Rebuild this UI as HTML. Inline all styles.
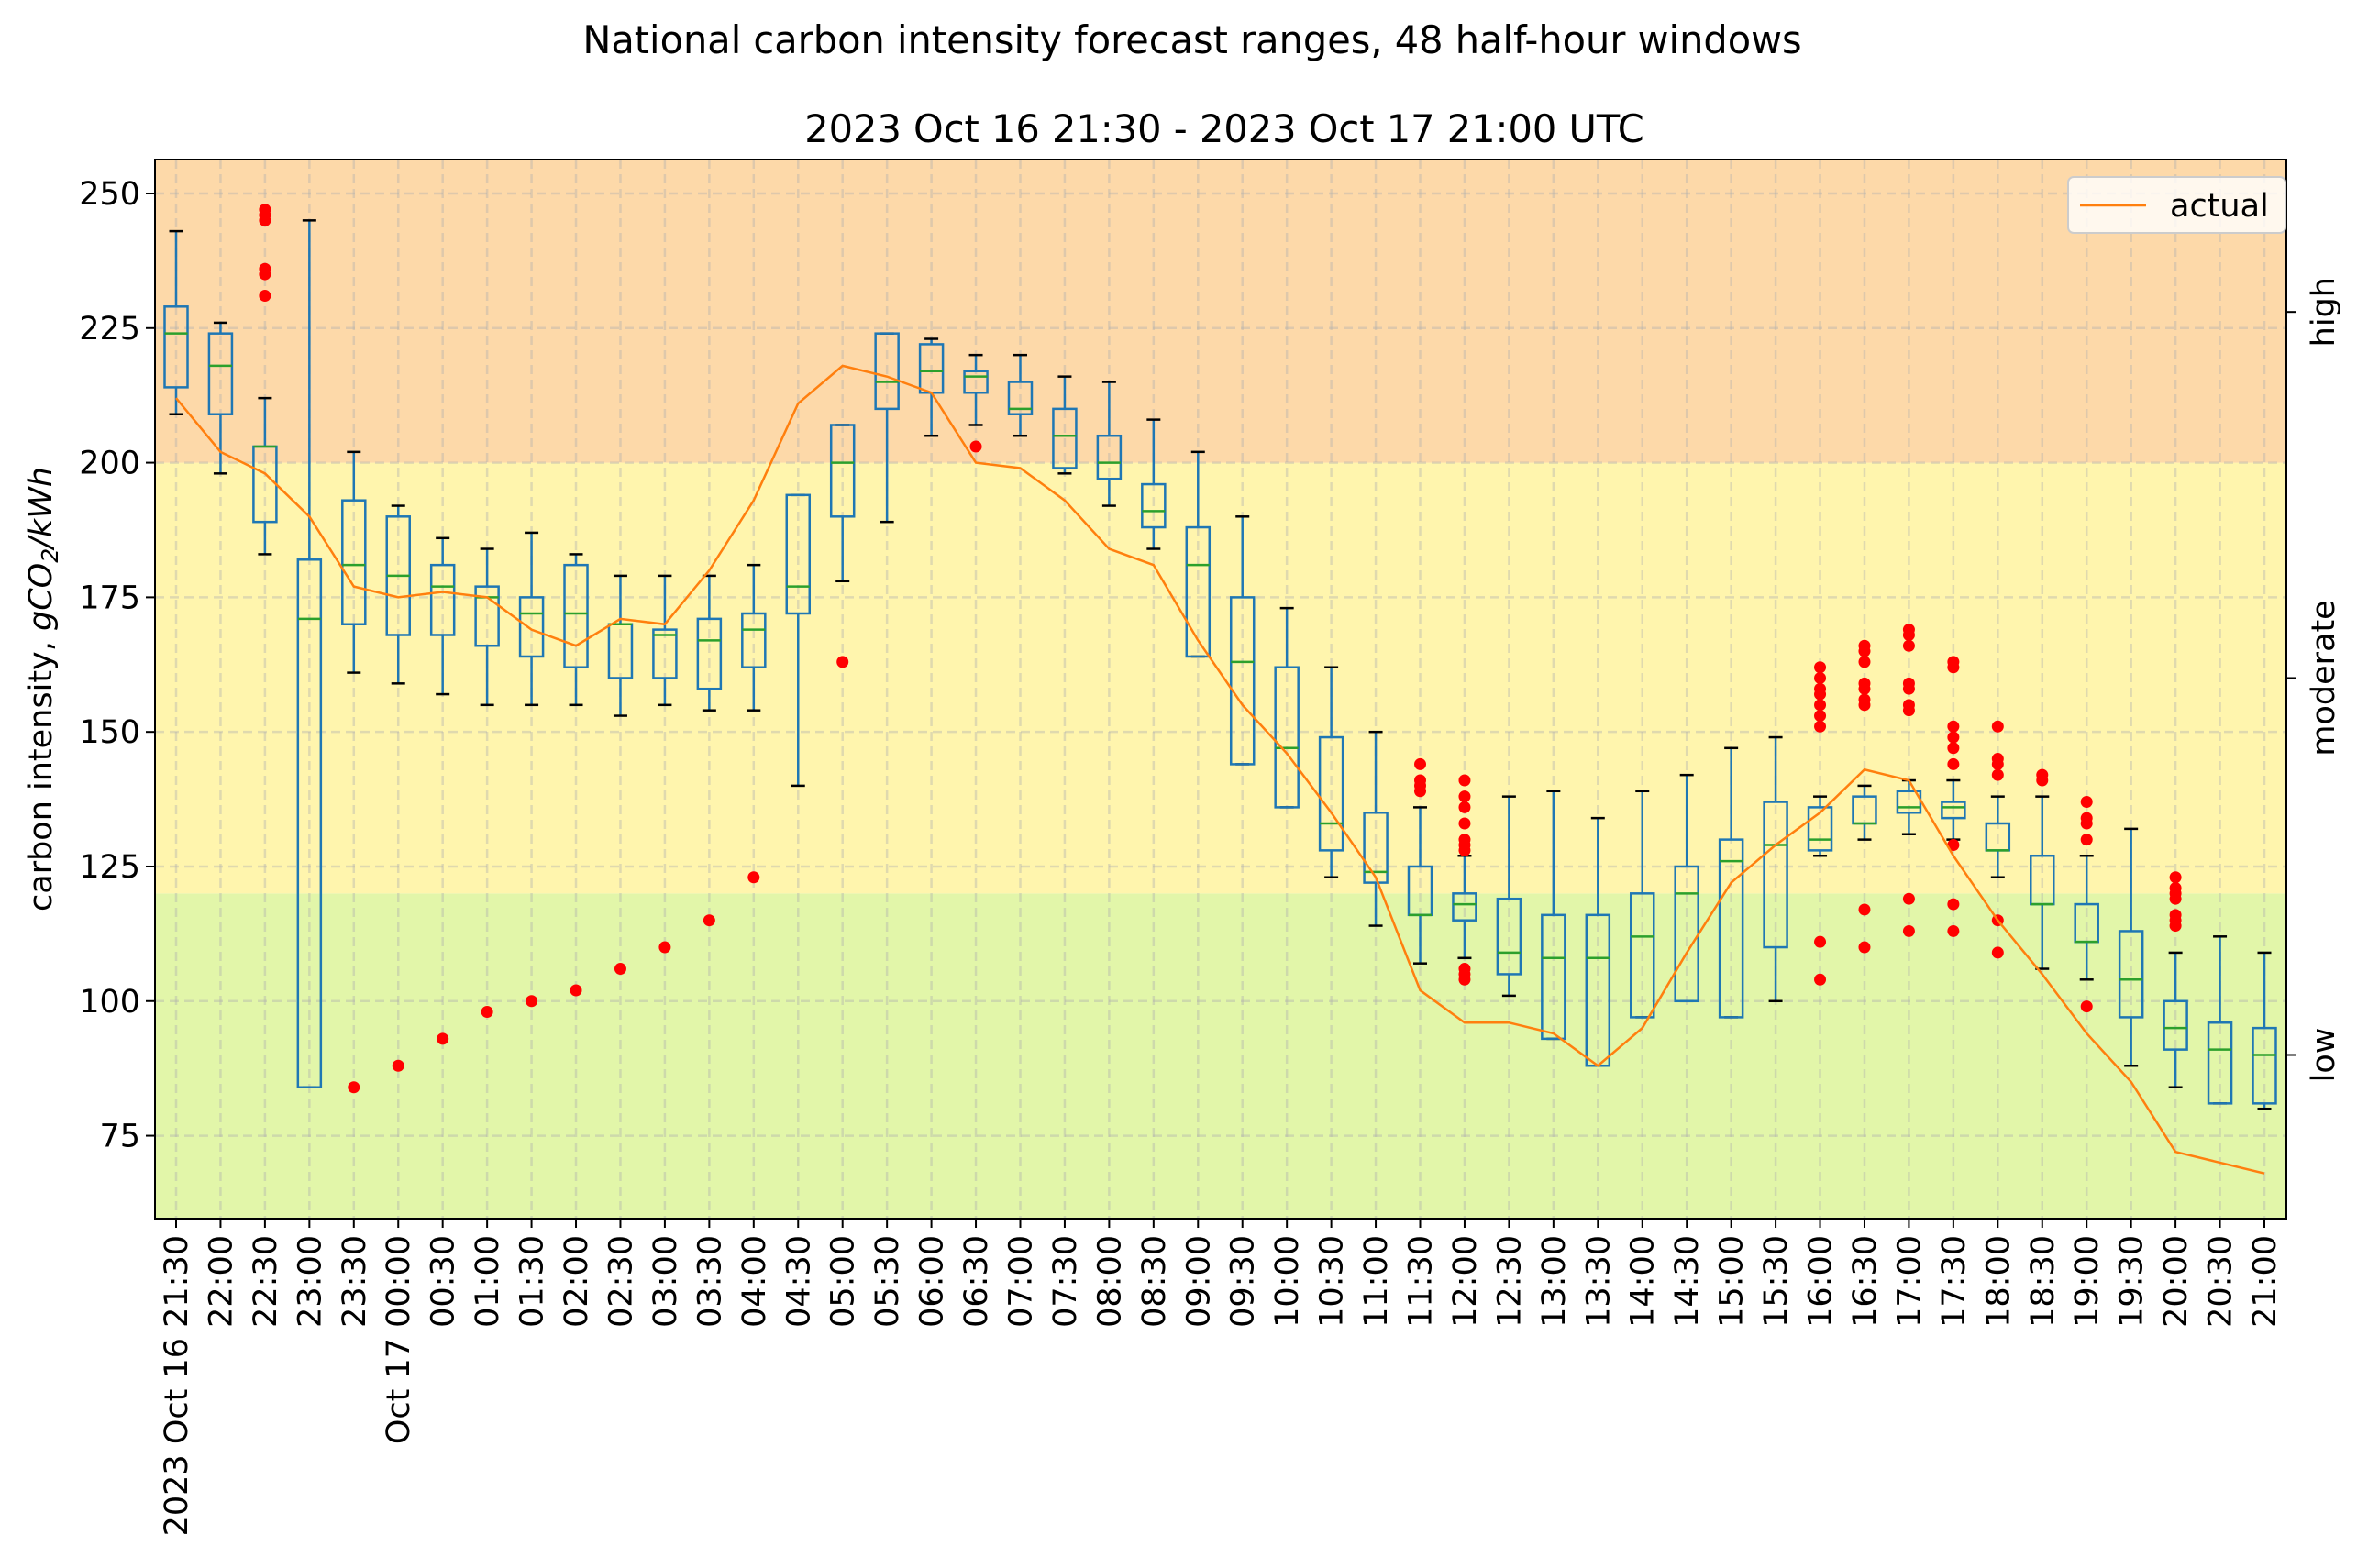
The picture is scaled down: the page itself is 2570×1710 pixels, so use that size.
<!DOCTYPE html>
<html><head><meta charset="utf-8"><style>
body{margin:0;background:#fff;}
svg text{font-family:"DejaVu Sans","Liberation Sans",sans-serif;fill:#000;}
</style></head><body>
<svg id="chart" width="2570" height="1705" viewBox="0 0 2570 1705" xmlns="http://www.w3.org/2000/svg">
<text x="1300" y="58" font-size="41.5" text-anchor="middle">National carbon intensity forecast ranges, 48 half-hour windows</text>
<text x="1335" y="155" font-size="41.5" text-anchor="middle">2023 Oct 16 21:30 - 2023 Oct 17 21:00 UTC</text>
<g id="plot"></g>
</svg>
<script>
const labels=["2023 Oct 16 21:30","22:00","22:30","23:00","23:30","Oct 17 00:00","00:30","01:00","01:30","02:00","02:30","03:00","03:30","04:00","04:30","05:00","05:30","06:00","06:30","07:00","07:30","08:00","08:30","09:00","09:30","10:00","10:30","11:00","11:30","12:00","12:30","13:00","13:30","14:00","14:30","15:00","15:30","16:00","16:30","17:00","17:30","18:00","18:30","19:00","19:30","20:00","20:30","21:00"];
const whisLo=[209,198,183,84,161,159,157,155,155,155,153,155,154,154,140,178,189,205,207,205,198,192,184,164,144,136,123,114,107,108,101,93,88,97,100,97,100,127,130,131,130,123,106,104,88,84,81,80];
const q1=[214,209,189,84,170,168,168,166,164,162,160,160,158,162,172,190,210,213,213,209,199,197,188,164,144,136,128,122,116,115,105,93,88,97,100,97,110,128,133,135,134,128,118,111,97,91,81,81];
const med=[224,218,203,171,181,179,177,175,172,172,170,168,167,169,177,200,215,217,216,210,205,200,191,181,163,147,133,124,116,118,109,108,108,112,120,126,129,130,133,136,136,128,118,111,104,95,91,90];
const q3=[229,224,203,182,193,190,181,177,175,181,170,169,171,172,194,207,224,222,217,215,210,205,196,188,175,162,149,135,125,120,119,116,116,120,125,130,137,136,138,139,137,133,127,118,113,100,96,95];
const whisHi=[243,226,212,245,202,192,186,184,187,183,179,179,179,181,194,207,224,223,220,220,216,215,208,202,190,173,162,150,136,127,138,139,134,139,142,147,149,138,140,141,141,138,138,127,132,109,112,109];
const fliers=[[],[],[247,246,245,236,235,231],[],[84],[88],[93],[98],[100],[102],[106],[110],[115],[123],[],[163],[],[],[203],[],[],[],[],[],[],[],[],[],[144,141,140,139],[141,138,136,133,130,129,128,106,105,104],[],[],[],[],[],[],[],[162,160,158,157,155,153,151,111,104],[166,165,163,159,158,156,155,117,110],[169,168,166,159,158,155,154,119,113],[163,162,151,149,147,144,129,118,113],[151,145,144,142,115,109],[142,141],[137,134,133,130,99],[],[123,121,120,119,116,115,114],[],[]];
const actual=[212,202,198,190,177,175,176,175,169,166,171,170,180,193,211,218,216,213,200,199,193,184,181,167,155,146,135,123,102,96,96,94,88,95,109,122,129,135,143,141,127,115,105,94,85,72,70,68];
const yTicks=[75,100,125,150,175,200,225,250];
const zones=[{name:"low",lo:-1e9,hi:120,c:"#e2f6a9",mid:90},{name:"moderate",lo:120,hi:200,c:"#fff5ad",mid:160},{name:"high",lo:200,hi:1e9,c:"#fdd9a9",mid:228}];

const L=169,R=2493,T=174,B=1329,yMin=59.6,yMax=256.3;
const X0=192,DX=(2469-192)/47;
const xs=i=>X0+i*DX;
const ys=v=>B-(v-yMin)/(yMax-yMin)*(B-T);
const NS="http://www.w3.org/2000/svg";
const g=document.getElementById('plot');
function mk(tag,a,p){const e=document.createElementNS(NS,tag);for(const k in a)e.setAttribute(k,a[k]);(p||g).appendChild(e);return e;}

zones.forEach(z=>{
 const y1=ys(Math.min(z.hi,yMax)),y2=ys(Math.max(z.lo,yMin));
 const r=mk('rect',{x:L,y:y1,width:R-L,height:y2-y1,fill:z.c});
 
 
 const yy=ys(z.mid);
 const tk=mk('line',{x1:R,x2:R+10,y1:yy,y2:yy,stroke:'#000','stroke-width':2});
 
 
 const t=mk('text',{x:0,y:0,'font-size':35,'text-anchor':'middle',transform:`translate(${R+52},${yy}) rotate(-90)`});
 t.textContent=z.name;
 
 
});
yTicks.forEach(v=>{
 const y=ys(v);
 const gl=mk('line',{x1:L,x2:R,y1:y,y2:y,stroke:'#b0b0b0','stroke-opacity':0.4,'stroke-width':2.5,'stroke-dasharray':'10,6'});
 
 
 const tk=mk('line',{x1:L-10,x2:L,y1:y,y2:y,stroke:'#000','stroke-width':2});
 
 
 const t=mk('text',{x:L-16,y:y+12,'font-size':35,'text-anchor':'end'});
 t.textContent=v;
 
 
});
labels.forEach((lb,i)=>{
 const x=xs(i);
 const gl=mk('line',{x1:x,x2:x,y1:T,y2:B,stroke:'#b0b0b0','stroke-opacity':0.4,'stroke-width':2.5,'stroke-dasharray':'10,6'});
 
 
 const tk=mk('line',{x1:x,x2:x,y1:B,y2:B+10,stroke:'#000','stroke-width':2});
 
 
 const t=mk('text',{x:0,y:0,'font-size':35,'text-anchor':'end',transform:`translate(${x+12},${B+18}) rotate(-90)`});
 t.textContent=lb;
 
 
});
labels.forEach((lb,i)=>{
 const x=xs(i),bw=25,cw=15,blue='#1f77b4';
 const bg=mk('g',{});
 
 
 mk('line',{x1:x,x2:x,y1:ys(q1[i]),y2:ys(whisLo[i]),stroke:blue,'stroke-width':2.5},bg);
 mk('line',{x1:x,x2:x,y1:ys(q3[i]),y2:ys(whisHi[i]),stroke:blue,'stroke-width':2.5},bg);
 mk('line',{x1:x-cw/2,x2:x+cw/2,y1:ys(whisLo[i]),y2:ys(whisLo[i]),stroke:'#000','stroke-width':2.5},bg);
 mk('line',{x1:x-cw/2,x2:x+cw/2,y1:ys(whisHi[i]),y2:ys(whisHi[i]),stroke:'#000','stroke-width':2.5},bg);
 mk('rect',{x:x-bw/2,y:ys(q3[i]),width:bw,height:Math.max(0,ys(q1[i])-ys(q3[i])),fill:'none',stroke:blue,'stroke-width':2.5},bg);
 mk('line',{x1:x-bw/2,x2:x+bw/2,y1:ys(med[i]),y2:ys(med[i]),stroke:'#2ca02c','stroke-width':2.5},bg);
 fliers[i].forEach(f=>{mk('circle',{cx:x,cy:ys(f),r:6.5,fill:'#ff0000'},bg);});
});
const pl=mk('polyline',{points:actual.map((v,i)=>xs(i)+','+ys(v)).join(' '),fill:'none',stroke:'#ff7f0e','stroke-width':2.5});


const fr=mk('rect',{x:L,y:T,width:R-L,height:B-T,fill:'none',stroke:'#000','stroke-width':2});


const yl=mk('text',{x:0,y:0,'font-size':35,'text-anchor':'middle',transform:`translate(56,${(T+B)/2}) rotate(-90)`});
yl.innerHTML='carbon intensity, <tspan font-style="italic">gCO</tspan><tspan font-style="italic" font-size="25" dy="7">2</tspan><tspan font-style="italic" dy="-7">/kWh</tspan>';


const lg=mk('g',{});


mk('rect',{x:2255,y:193,width:237,height:61,rx:6,fill:'#ffffff','fill-opacity':0.8,stroke:'#cccccc','stroke-width':2},lg);
mk('line',{x1:2268,x2:2340,y1:224,y2:224,stroke:'#ff7f0e','stroke-width':2.5},lg);
const lt=mk('text',{x:2366,y:236,'font-size':35},lg);
lt.textContent='actual';


</script>
</body></html>
